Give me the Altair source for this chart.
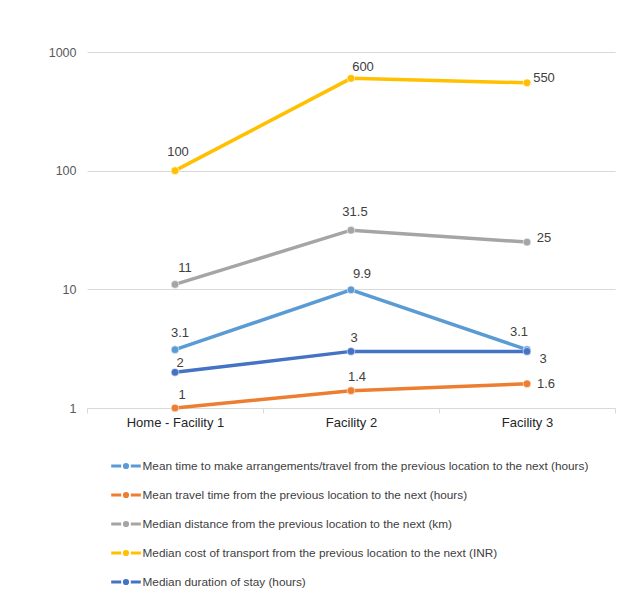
import altair as alt
import pandas as pd

categories = ["Home - Facility 1", "Facility 2", "Facility 3"]
series_names = [
    "Mean time to make arrangements/travel from the previous location to the next (hours)",
    "Mean travel time from the previous location to the next (hours)",
    "Median distance from the previous location to the next (km)",
    "Median cost of transport from the previous location to the next (INR)",
    "Median duration of stay (hours)",
]
arrangement_hours = [3.1, 9.9, 3.1]
travel_hours = [1, 1.4, 1.6]
distance_km = [11, 31.5, 25]
cost_inr = [100, 600, 550]
stay_hours = [2, 3, 3]
y_ticks = [1, 10, 100, 1000]

colors = ["#5B9BD5", "#ED7D31", "#A5A5A5", "#FFC000", "#4472C4"]

all_values = [arrangement_hours, travel_hours, distance_km, cost_inr, stay_hours]
rows = []
for si, (name, vals) in enumerate(zip(series_names, all_values)):
    for ci, (cat, v) in enumerate(zip(categories, vals)):
        rows.append({"series": name, "sidx": si, "category": cat, "cidx": ci,
                     "value": v, "label": f"{v:g}"})
df = pd.DataFrame(rows)

FONT = "Liberation Sans"

x_enc = alt.X("category:N", sort=categories,
              scale=alt.Scale(type="band", domain=categories, paddingInner=0, paddingOuter=0),
              axis=alt.Axis(title=None, labelAngle=0, tickBand="extent", grid=False,
                            domainColor="#d9d9d9", tickColor="#d9d9d9", tickSize=5,
                            labelColor="#262626", labelFontSize=13, labelPadding=3,
                            labelFont=FONT))
y_enc = alt.Y("value:Q",
              scale=alt.Scale(type="log", domain=[1, 1000], nice=False),
              axis=alt.Axis(title=None, values=y_ticks, format="d", grid=True,
                            gridColor="#d9d9d9", domain=False, ticks=False,
                            labelColor="#595959", labelFontSize=12.5, labelPadding=11,
                            labelFont=FONT))

legend_symbol = ("M-1.85,0L-0.6,0M0.6,0L1.85,0"
                 "M0.2,0A0.2,0.2 0 1,1 -0.2,0A0.2,0.2 0 1,1 0.2,0")

color_scale = alt.Scale(domain=series_names, range=colors)

base = alt.Chart(df)

lines = base.mark_line(strokeWidth=3.5).encode(
    x=x_enc, y=y_enc,
    color=alt.Color("series:N", scale=color_scale, sort=series_names,
                    legend=alt.Legend(orient="none", legendX=29.5, legendY=404.5,
                                      direction="vertical", title=None,
                                      symbolType=legend_symbol, symbolSize=256,
                                      symbolStrokeWidth=3, labelFontSize=11.8,
                                      labelFont=FONT, labelColor="#404040",
                                      labelLimit=600, rowPadding=11, labelOffset=7,
                                      padding=0)),
    order="cidx:Q",
)

points = base.mark_point(filled=True, size=60, opacity=1, stroke="white",
                         strokeWidth=1, strokeOpacity=0.55).encode(
    x=x_enc, y=y_enc,
    color=alt.Color("series:N", scale=color_scale, legend=None),
)

# label placement: (series index, category index, dx, dy)
placements = [
    (3, 0, 3, -19), (3, 1, 12, -11), (3, 2, 17, -5),
    (2, 0, 10, -16), (2, 1, 4, -18), (2, 2, 17, -4),
    (0, 0, 5, -17), (0, 1, 11, -16), (0, 2, -8, -18),
    (4, 0, 5, -9), (4, 1, 3, -13), (4, 2, 16, 8),
    (1, 0, 7, -13), (1, 1, 6, -14), (1, 2, 19, 0),
]
text_layers = []
for si, ci, dx, dy in placements:
    text_layers.append(
        base.mark_text(dx=dx, dy=dy, fontSize=13, font=FONT, color="#404040",
                       baseline="middle", align="center")
        .encode(x=x_enc, y=y_enc, text="label:N")
        .transform_filter(f"datum.sidx == {si} && datum.cidx == {ci}")
    )

chart = alt.layer(lines, points, *text_layers).properties(
    width=528, height=356,
    autosize=alt.AutoSizeParams(type="none"),
    padding={"left": 79, "top": 44, "right": 3, "bottom": 183},
    background="white",
).configure_view(stroke=None)

chart.save("out.html", embed_options={"renderer": "svg", "actions": False})
